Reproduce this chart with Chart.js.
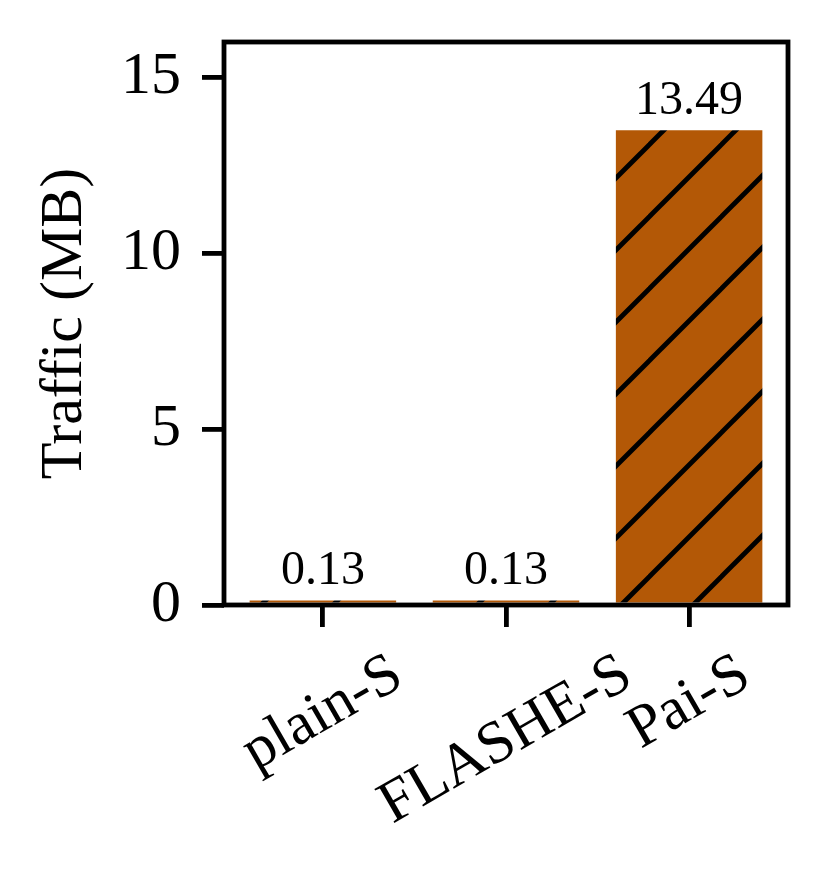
<!DOCTYPE html>
<html>
<head>
<meta charset="utf-8">
<script src="https://cdn.jsdelivr.net/npm/chart.js@4.4.0/dist/chart.umd.min.js"></script>
<style>
  html, body { margin: 0; padding: 0; background: #fff; }
  canvas { display: block; }
</style>
</head>
<body>
<canvas id="myChart" width="831" height="880"></canvas>
<script>
// data
const categories = ['plain-S', 'FLASHE-S', 'Pai-S'];
const traffic = [0.13, 0.13, 13.49];
const yTicks = [0, 5, 10, 15];

const BAR_COLOR = '#b35806';
const SERIF = '"Liberation Serif", "Times New Roman", serif';
const TICK_LEN = 22;
const LABEL_SIZE = 60;

// diagonal "/" hatch, same phase as the original
function makeHatch(color)
{
  var size = 72;
  var c = document.createElement('canvas');
  c.width = size;
  c.height = size;
  var g = c.getContext('2d');
  g.fillStyle = color;
  g.fillRect(0, 0, size, size);
  g.strokeStyle = '#000';
  g.lineWidth = 4.8;
  for (var k = -1; k <= 2; k++) {
    var off = 2 + k * size;
    g.beginPath();
    g.moveTo(off + 10, -10);
    g.lineTo(off - size - 10, size + 10);
    g.stroke();
  }
  return g.createPattern(c, 'repeat');
}

// box around the plot, value labels on the bars, rotated category names
const extras = {
  id: 'extras',
  afterDatasetsDraw(chart) {
    const ctx = chart.ctx;
    const a = chart.chartArea;
    const xs = chart.scales.x, ys = chart.scales.y;
    ctx.save();
    ctx.strokeStyle = '#000';
    ctx.lineWidth = 4.8;
    ctx.strokeRect(a.left, a.top, a.right - a.left, a.bottom - a.top);

    ctx.fillStyle = '#000';
    ctx.font = '48px ' + SERIF;
    ctx.textAlign = 'center';
    ctx.textBaseline = 'alphabetic';
    traffic.forEach(function(v, i) {
      ctx.fillText(v.toFixed(2), xs.getPixelForValue(i), ys.getPixelForValue(v) - 16);
    });

    ctx.font = LABEL_SIZE + 'px ' + SERIF;
    const ang = Math.PI / 6;
    const top = xs.top + TICK_LEN + 14.6;
    categories.forEach(function(name, i) {
      const w = ctx.measureText(name).width;
      const h = LABEL_SIZE * 1.107;
      const boxH = w * Math.sin(ang) + h * Math.cos(ang);
      ctx.save();
      ctx.translate(xs.getPixelForValue(i), top + boxH / 2);
      ctx.rotate(-ang);
      ctx.textAlign = 'center';
      ctx.textBaseline = 'middle';
      ctx.fillText(name, 0, 0);
      ctx.restore();
    });
    ctx.restore();
  }
};

const data = {
  datasets: [{
    label: 'Traffic',
    data: traffic.map(function(v, i) { return { x: i, y: v }; }),
    backgroundColor: makeHatch(BAR_COLOR),
    borderWidth: 0,
    barPercentage: 0.8,
    categoryPercentage: 1.0
  }]
};

const config = {
  type: 'bar',
  data: data,
  plugins: [extras],
  options: {
    responsive: false,
    animation: false,
    devicePixelRatio: 1,
    layout: { padding: { top: 42, right: 43, left: 0, bottom: 0 } },
    plugins: { legend: { display: false }, tooltip: { enabled: false } },
    scales: {
      x: {
        type: 'linear',
        min: -0.54,
        max: 2.54,
        offset: false,
        afterBuildTicks: function(scale) {
          scale.ticks = categories.map(function(c, i) { return { value: i }; });
        },
        afterFit: function(scale) {
          scale.height = 275;
          scale.paddingLeft = 0;
          scale.paddingRight = 0;
        },
        ticks: { display: false },
        border: { display: false },
        grid: {
          offset: false,
          drawOnChartArea: false,
          drawTicks: true,
          tickLength: TICK_LEN,
          lineWidth: 4.8,
          color: '#000'
        }
      },
      y: {
        min: 0,
        max: 16,
        afterBuildTicks: function(scale) {
          scale.ticks = yTicks.map(function(v) { return { value: v }; });
        },
        afterFit: function(scale) {
          scale.width = 224;
          scale.paddingTop = 0;
          scale.paddingBottom = 0;
        },
        ticks: {
          padding: 21,
          color: '#000',
          font: { family: SERIF, size: LABEL_SIZE }
        },
        border: { display: false },
        grid: {
          drawOnChartArea: false,
          drawTicks: true,
          tickLength: TICK_LEN,
          lineWidth: 4.8,
          color: '#000'
        },
        title: {
          display: true,
          text: 'Traffic (MB)',
          color: '#000',
          font: { family: SERIF, size: LABEL_SIZE },
          padding: { top: 29, bottom: 0 }
        }
      }
    }
  }
};

const myChart = new Chart(document.getElementById('myChart'), config);
</script>
</body>
</html>
